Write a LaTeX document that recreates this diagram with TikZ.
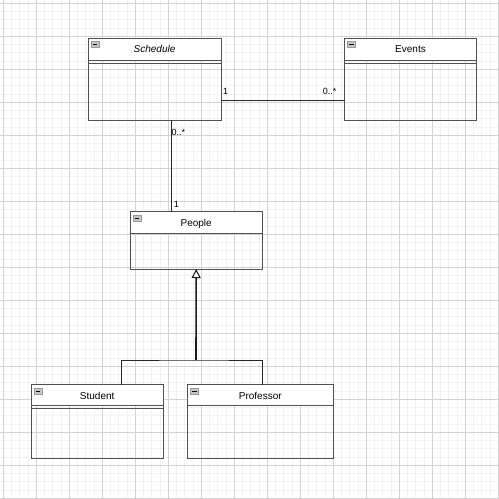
\documentclass[tikz,border=0pt]{standalone}
\usepackage{fontspec}
\setmainfont{Liberation Sans}
\usetikzlibrary{positioning, arrows.meta}

\definecolor{boxline}{HTML}{505050}
\definecolor{gridminor}{HTML}{F2F2F2}
\definecolor{gridmajor}{HTML}{D2D2D2}

\begin{document}
\begin{tikzpicture}[
        x=1pt, y=-1pt,
        chead/.style={rectangle, draw=boxline, fill=white, line width=1pt, minimum height=22pt, inner sep=0pt, outer sep=0pt,
          text height=8.2pt, text depth=0.8pt, font=\fontsize{10}{12}\selectfont},
        cbody/.style={rectangle, draw=boxline, line width=1pt, inner sep=0pt, outer sep=0pt},
        cicon/.style={rectangle, draw=gray!80, fill=gray!45, minimum width=8pt, minimum height=6pt, inner sep=0pt,
          path picture={\draw[black, line width=0.9pt] ([xshift=1.8pt]path picture bounding box.west) -- ([xshift=-1.8pt]path picture bounding box.east);}},
        mult/.style={font=\fontsize{9}{10}\selectfont, inner sep=0pt},
        assoc/.style={draw=black!85, line width=0.8pt},
      ]

        \useasboundingbox (0,0) rectangle (499,499);
        \fill[white] (0,0) rectangle (499,499);

        % grid
        \foreach \i in {0,...,60} {
          \draw[gridminor, line width=0.5pt] (3+\i*8.25,0) -- (3+\i*8.25,499);
          \draw[gridminor, line width=0.5pt] (0,3+\i*8.25) -- (499,3+\i*8.25);
        }
        \foreach \i in {0,...,15} {
          \draw[gridmajor, line width=0.6pt] (3+\i*33,0) -- (3+\i*33,499);
          \draw[gridmajor, line width=0.6pt] (0,3+\i*33) -- (499,3+\i*33);
        }

        % classes
        \node[chead, minimum width=133pt] (sched) at (154.5,49) {\textit{Schedule}};
        \node[cbody, minimum width=133pt, minimum height=60pt, below=0pt of sched] (schedbody) {};

        \node[chead, minimum width=132pt] (events) at (410.5,49) {Events};
        \node[cbody, minimum width=132pt, minimum height=60pt, below=0pt of events] (eventsbody) {};

        \node[chead, minimum width=132pt] (people) at (196.2,222.5) {People};
        \node[cbody, minimum width=132pt, minimum height=35.5pt, below=0pt of people] (peoplebody) {};

        \node[chead, minimum width=132pt, minimum height=20.7pt] (student) at (97.2,395.3) {Student};
        \node[cbody, minimum width=132pt, minimum height=53.3pt, below=0pt of student] (studentbody) {};

        \node[chead, minimum width=146pt, minimum height=20.7pt] (prof) at (260.3,395.3) {Professor};
        \node[cbody, minimum width=146pt, minimum height=53.3pt, below=0pt of prof] (profbody) {};

        % empty attribute compartments
        \draw[boxline, line width=1pt] ([yshift=-3.3pt]schedbody.north west) -- ([yshift=-3.3pt]schedbody.north east);
        \draw[boxline, line width=1pt] ([yshift=-3.3pt]eventsbody.north west) -- ([yshift=-3.3pt]eventsbody.north east);
        \draw[boxline, line width=1pt] ([yshift=-3.3pt]studentbody.north west) -- ([yshift=-3.3pt]studentbody.north east);

        % collapse icons
        \node[cicon] (schedicon)   at ([xshift=7pt, yshift=-6.5pt]sched.north west)   {};
        \node[cicon] (eventsicon)  at ([xshift=7pt, yshift=-6.5pt]events.north west)  {};
        \node[cicon] (peopleicon)  at ([xshift=7pt, yshift=-6.5pt]people.north west)  {};
        \node[cicon] (studenticon) at ([xshift=7pt, yshift=-6.5pt]student.north west) {};
        \node[cicon] (proficon)    at ([xshift=7pt, yshift=-6.5pt]prof.north west)    {};

        % associations
        \draw[assoc] ([yshift=-10pt]schedbody.east) -- ([yshift=-10pt]eventsbody.west);
        \node[mult, anchor=south west] (m1) at ([xshift=2pt, yshift=-5pt]schedbody.east) {1};
        \node[mult, anchor=south east] (m2) at ([xshift=-8pt, yshift=-5pt]eventsbody.west) {0..*};

        \draw[assoc] ([xshift=17.2pt]schedbody.south) -- ([xshift=17.2pt]schedbody.south |- people.north);
        \node[mult, anchor=north west] (m3) at ([xshift=17pt, yshift=-9pt]schedbody.south) {0..*};
        \node[mult, anchor=south west] (m4) at ([xshift=-22.5pt, yshift=4pt]people.north) {1};

        % generalization
        \coordinate (joint) at (196,360);
        \draw[black!90, line width=1.6pt, -{Triangle[open, length=9pt, width=9pt, line width=1pt]}] (joint) -- (peoplebody.south);
        \draw[assoc] ([xshift=24.5pt]student.north) |- (joint) -| ([xshift=2pt]prof.north);
      \end{tikzpicture}
\end{document}
